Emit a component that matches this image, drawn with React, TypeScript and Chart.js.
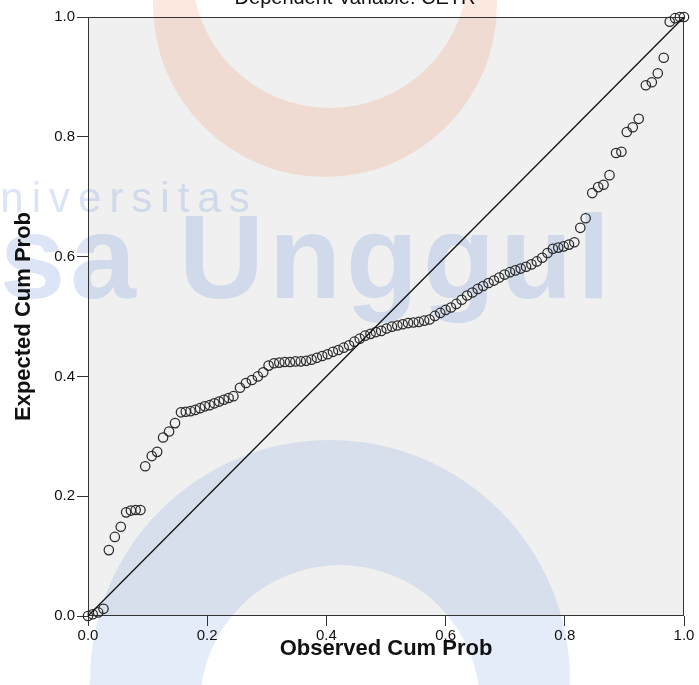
import React, { useEffect, useRef } from "react";
import { Chart, registerables } from "chart.js";

Chart.register(...registerables);

const chartTitle = "Dependent Variable: CETR";
const xAxisTitle = "Observed Cum Prob";
const yAxisTitle = "Expected Cum Prob";
const watermarkTop = "Universitas";
const watermarkMain = "Esa Unggul";

const observedCumProb = [
  0.000, 0.008, 0.017, 0.026, 0.035, 0.045, 0.055, 0.064, 0.072, 0.080,
  0.088, 0.096, 0.107, 0.116, 0.126, 0.136, 0.146, 0.156, 0.164, 0.172,
  0.180, 0.188, 0.196, 0.204, 0.212, 0.220, 0.228, 0.236, 0.244, 0.255,
  0.265, 0.275, 0.285, 0.294, 0.303, 0.312, 0.321, 0.330, 0.339, 0.348,
  0.357, 0.366, 0.375, 0.384, 0.393, 0.402, 0.411, 0.420, 0.429, 0.438,
  0.447, 0.456, 0.465, 0.474, 0.483, 0.492, 0.501, 0.510, 0.519, 0.528,
  0.537, 0.546, 0.555, 0.564, 0.573, 0.582, 0.591, 0.600, 0.609, 0.618,
  0.627, 0.636, 0.645, 0.654, 0.663, 0.672, 0.681, 0.690, 0.699, 0.708,
  0.717, 0.726, 0.735, 0.744, 0.753, 0.762, 0.771, 0.780, 0.789, 0.798,
  0.807, 0.816, 0.826, 0.835, 0.846, 0.856, 0.865, 0.875, 0.886, 0.895,
  0.904, 0.914, 0.924, 0.936, 0.946, 0.956, 0.966, 0.976, 0.985, 0.993,
  1.000,
];

const expectedCumProb = [
  0.000, 0.003, 0.006, 0.012, 0.110, 0.132, 0.149, 0.173, 0.176, 0.177,
  0.177, 0.250, 0.267, 0.274, 0.298, 0.308, 0.322, 0.340, 0.341, 0.342,
  0.344, 0.347, 0.350, 0.352, 0.355, 0.358, 0.361, 0.364, 0.367, 0.381,
  0.389, 0.394, 0.400, 0.407, 0.418, 0.422, 0.423, 0.424, 0.424, 0.425,
  0.425, 0.426, 0.428, 0.431, 0.434, 0.437, 0.441, 0.444, 0.448, 0.452,
  0.458, 0.463, 0.468, 0.471, 0.474, 0.476, 0.480, 0.483, 0.485, 0.487,
  0.489, 0.490, 0.491, 0.493, 0.495, 0.501, 0.506, 0.511, 0.515, 0.521,
  0.528, 0.535, 0.540, 0.546, 0.551, 0.556, 0.560, 0.565, 0.570, 0.574,
  0.577, 0.580, 0.583, 0.587, 0.592, 0.598, 0.606, 0.613, 0.615, 0.617,
  0.620, 0.624, 0.648, 0.664, 0.706, 0.716, 0.720, 0.736, 0.773, 0.775,
  0.808, 0.816, 0.830, 0.886, 0.891, 0.906, 0.932, 0.992, 0.998, 1.000,
  1.000,
];

const diagonalX = [0, 1];
const diagonalY = [0, 1];

const FONT = "'Liberation Sans', Arial, sans-serif";

const decorPlugin = {
  id: "decor",
  beforeDraw(chart: any) {
    const { ctx, chartArea, width, height } = chart;
    ctx.save();
    ctx.fillStyle = "#ffffff";
    ctx.fillRect(0, 0, width, height);
    ctx.fillStyle = "#f0f0f0";
    ctx.fillRect(chartArea.left, chartArea.top, chartArea.right - chartArea.left, chartArea.bottom - chartArea.top);

    // faint watermark
    ctx.fillStyle = "rgba(240,130,80,0.18)";
    ctx.beginPath();
    ctx.arc(325, 5, 172, 0, Math.PI * 2);
    ctx.arc(330, -30, 138, 0, Math.PI * 2, true);
    ctx.fill("evenodd");
    ctx.fillStyle = "rgba(110,150,220,0.18)";
    ctx.beginPath();
    ctx.arc(330, 680, 240, 0, Math.PI * 2);
    ctx.arc(340, 705, 140, 0, Math.PI * 2, true);
    ctx.fill("evenodd");

    ctx.fillStyle = "rgba(110,150,220,0.25)";
    ctx.font = `42px ${FONT}`;
    ctx.textAlign = "left";
    ctx.textBaseline = "alphabetic";
    (ctx as any).letterSpacing = "8px";
    ctx.fillText(watermarkTop, -38, 212);
    (ctx as any).letterSpacing = "5px";
    ctx.font = `bold 118px ${FONT}`;
    ctx.fillText(watermarkMain, -84, 298);
    (ctx as any).letterSpacing = "0px";
    ctx.restore();
  },
  beforeDatasetsDraw(chart: any) {
    const { ctx, chartArea } = chart;
    ctx.save();
    ctx.strokeStyle = "#333";
    ctx.lineWidth = 1;
    ctx.strokeRect(chartArea.left + 0.5, chartArea.top + 0.5, chartArea.right - chartArea.left - 1, chartArea.bottom - chartArea.top - 1);
    ctx.restore();
  },
  afterDraw(chart: any) {
    const { ctx, chartArea } = chart;
    ctx.save();
    ctx.fillStyle = "#111";
    ctx.textAlign = "center";
    ctx.textBaseline = "alphabetic";
    ctx.font = `20px ${FONT}`;
    ctx.fillText(chartTitle, 355, 4);
    ctx.font = `bold 22px ${FONT}`;
    ctx.fillText(xAxisTitle, (chartArea.left + chartArea.right) / 2, 655);
    ctx.translate(30, (chartArea.top + chartArea.bottom) / 2);
    ctx.rotate(-Math.PI / 2);
    ctx.fillText(yAxisTitle, 0, 0);
    ctx.restore();
  },
};

export default function App() {
  const ref = useRef<HTMLCanvasElement | null>(null);
  useEffect(() => {
    document.body.style.margin = "0";
    const canvas = ref.current!;
    const points = observedCumProb.map((x, i) => ({ x, y: expectedCumProb[i] }));
    const diag = diagonalX.map((x, i) => ({ x, y: diagonalY[i] }));
    const tickFont = { family: FONT, size: 15 };
    const chart = new Chart(canvas, {
      type: "scatter",
      data: {
        datasets: [
          {
            type: "line",
            data: diag,
            borderColor: "#111",
            borderWidth: 1.3,
            pointRadius: 0,
            fill: false,
          } as any,
          {
            type: "scatter",
            data: points,
            pointStyle: "circle",
            pointRadius: 4.7,
            backgroundColor: "rgba(0,0,0,0)",
            borderColor: "#2a2a2a",
            borderWidth: 1.25,
            clip: false,
          } as any,
        ],
      },
      options: {
        responsive: false,
        animation: false,
        events: [],
        layout: { padding: { left: 0, right: 15, top: 17, bottom: 0 } },
        plugins: {
          legend: { display: false },
          tooltip: { enabled: false },
          title: { display: false },
        },
        scales: {
          x: {
            type: "linear",
            min: 0,
            max: 1,
            ticks: {
              stepSize: 0.2,
              color: "#111",
              font: tickFont,
              padding: 1,
              maxRotation: 0,
              callback: (v: any) => Number(v).toFixed(1),
            },
            grid: { drawOnChartArea: false, drawTicks: true, tickLength: 10, color: "#333" },
            border: { display: false },
            afterFit: (s: any) => {
              s.height = 69;
            },
          },
          y: {
            type: "linear",
            min: 0,
            max: 1,
            ticks: {
              stepSize: 0.2,
              color: "#111",
              font: tickFont,
              padding: 2,
              callback: (v: any) => Number(v).toFixed(1),
            },
            grid: { drawOnChartArea: false, drawTicks: true, tickLength: 11, color: "#333" },
            border: { display: false },
            afterFit: (s: any) => {
              s.width = 88;
            },
          },
        },
      },
      plugins: [decorPlugin],
    });
    return () => chart.destroy();
  }, []);
  return (
    <div style={{ width: 699, height: 685 }}>
      <canvas ref={ref} width={699} height={685} style={{ display: "block" }} />
    </div>
  );
}
